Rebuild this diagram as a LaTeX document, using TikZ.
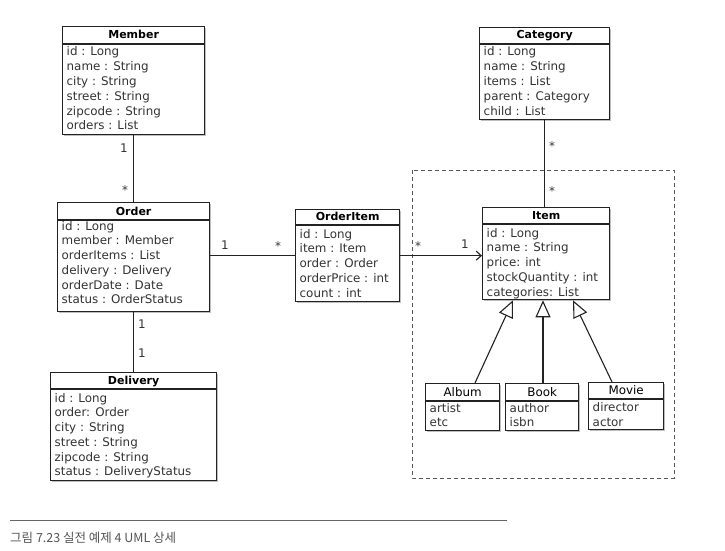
\documentclass[tikz,border=0pt]{standalone}
\usepackage{fontspec}
\setmainfont{DejaVu Sans}
\newfontfamily\krfont{Noto Sans CJK KR}
\usetikzlibrary{calc,arrows.meta,shadows}
\definecolor{ink}{HTML}{333333}
\definecolor{capgray}{HTML}{555555}
\definecolor{edge}{HTML}{222222}
\tikzset{
  clsbox/.style={draw=edge, line width=1.3pt, fill=white, inner sep=0pt,
    drop shadow={shadow xshift=1.2pt,shadow yshift=-1.2pt,opacity=0.25,fill=black}},
  clsrule/.style={draw=edge, line width=1.1pt},
  clstitle/.style={anchor=base, inner sep=0pt, text=black, font=\fontsize{11}{13}\selectfont\bfseries},
  clsitem/.style={anchor=base west, inner sep=0pt, text=ink, font=\fontsize{11.9}{14}\selectfont},
  assoc/.style={draw=edge, line width=1.1pt},
  navarrow/.style={-{Straight Barb[length=5pt,width=9pt,line width=1.1pt]}},
  gen/.style={draw=edge, line width=1.1pt, -{Triangle[open,length=17pt,width=15pt,line width=1.1pt]}},
  mult/.style={anchor=base, inner sep=0pt, text=ink, font=\fontsize{11.9}{14}\selectfont},
  dashbox/.style={draw=black!65, line width=1pt, dash pattern=on 4pt off 3pt},
  capline/.style={draw=black!60, line width=0.9pt},
  captext/.style={anchor=base west, inner sep=0pt, text=capgray, font=\krfont\fontsize{12.5}{14}\selectfont},
}
% #1 name, #2 x, #3 y(top), #4 width, #5 height, #6 header height, #7 title, #8 first baseline offset, #9 rows
\newcommand{\umlcls}[9]{%
  \node[clsbox, minimum width=#4pt, minimum height=#5pt, anchor=north west] (#1) at (#2,#3) {};
  \draw[clsrule] ($(#1.north west)+(0,#6)$) coordinate (#1-hl) -- ($(#1.north east)+(0,#6)$) coordinate (#1-hr);
  \node[clstitle] (#1-title) at ($(#1.north)+(0,#6-5)$) {#7};
  \foreach \txt [count=\i from 0] in {#9} {
    \node[clsitem] (#1-row\i) at ($(#1.north west)+(4.5,{#8+14.75*\i})$) {\txt};
  }%
}
\begin{document}
\begin{tikzpicture}[x=1pt,y=-1pt]
\fill[white] (0,0) rectangle (725,551);
\useasboundingbox (0,0) rectangle (725,551);

% dashed group frame
\draw[dashbox] (412,170) rectangle (674,478);

\umlcls{member}{62}{26}{142}{108}{18}{Member}{30}{id : Long, name : String, city : String, street : String, zipcode : String, orders : List}
\umlcls{order}{57}{202}{152}{109}{18}{Order}{28}{id : Long, member : Member, orderItems : List, delivery : Delivery, orderDate : Date, status : OrderStatus}
\umlcls{delivery}{50}{372}{166}{108}{17}{Delivery}{30}{id : Long, order: Order, city : String, street : String, zipcode : String, status : DeliveryStatus}
\umlcls{orderitem}{295}{209}{104}{92}{16}{OrderItem}{29}{id : Long, item : Item, order : Order, orderPrice : int, count : int}
\umlcls{category}{479}{27}{130}{92}{17}{Category}{29}{id : Long, name : String, items : List, parent : Category, child : List}
\umlcls{item}{482}{207}{127}{92}{17}{Item}{30}{id : Long, name : String, price: int, stockQuantity : int, categories: List}
\umlcls{album}{425}{383}{74}{47}{18}{\mdseries\fontsize{11.9}{14}\selectfont Album}{29}{artist, etc}
\umlcls{book}{505}{383}{73}{47}{18}{\mdseries\fontsize{11.9}{14}\selectfont Book}{29}{author, isbn}
\umlcls{movie}{588}{382}{75}{47}{17}{\mdseries\fontsize{11.9}{14}\selectfont Movie}{29.5}{director, actor}

% associations
\draw[assoc] (member.south) -- (member.south |- order.north);
\draw[assoc] (order.south) -- (order.south |- delivery.north);
\draw[assoc] (order.east |- orderitem.west) -- (orderitem.west);
\draw[assoc,navarrow] (orderitem.east) -- (item.west |- orderitem.east);
\draw[assoc] (category.south) -- (category.south |- item.north);

% generalizations
\coordinate (g-album) at ($(item.south west)+(31,0)$);
\coordinate (g-book) at ($(item.south west)+(61,0)$);
\coordinate (g-movie) at ($(item.south west)+(91,0)$);
\coordinate (album-top) at ($(album.north west)+(50,0)$);
\coordinate (book-top) at ($(book.north west)+(38,0)$);
\coordinate (movie-top) at ($(movie.north west)+(24,0)$);
\draw[gen] (album-top) -- (g-album);
\draw[gen] (book-top) -- (g-book);
\draw[gen] (movie-top) -- (g-movie);

% multiplicities
\node[mult] (mm1) at (124,152.4) {1};
\node[mult] (mm2) at (125,194) {*};
\node[mult] (od1) at (142,328.4) {1};
\node[mult] (od2) at (142,357.4) {1};
\node[mult] (oi1) at (225,249.4) {1};
\node[mult] (oi2) at (278,250) {*};
\node[mult] (it1) at (418,250) {*};
\node[mult] (it2) at (465,248.4) {1};
\node[mult] (ci1) at (552,150) {*};
\node[mult] (ci2) at (552,195) {*};

% caption
\draw[capline] (10,520) coordinate (capL) -- (507,520) coordinate (capR);
\node[captext] (caption) at (10,542) {그림 7.23 실전 예제 4 UML 상세};
\end{tikzpicture}
\end{document}
